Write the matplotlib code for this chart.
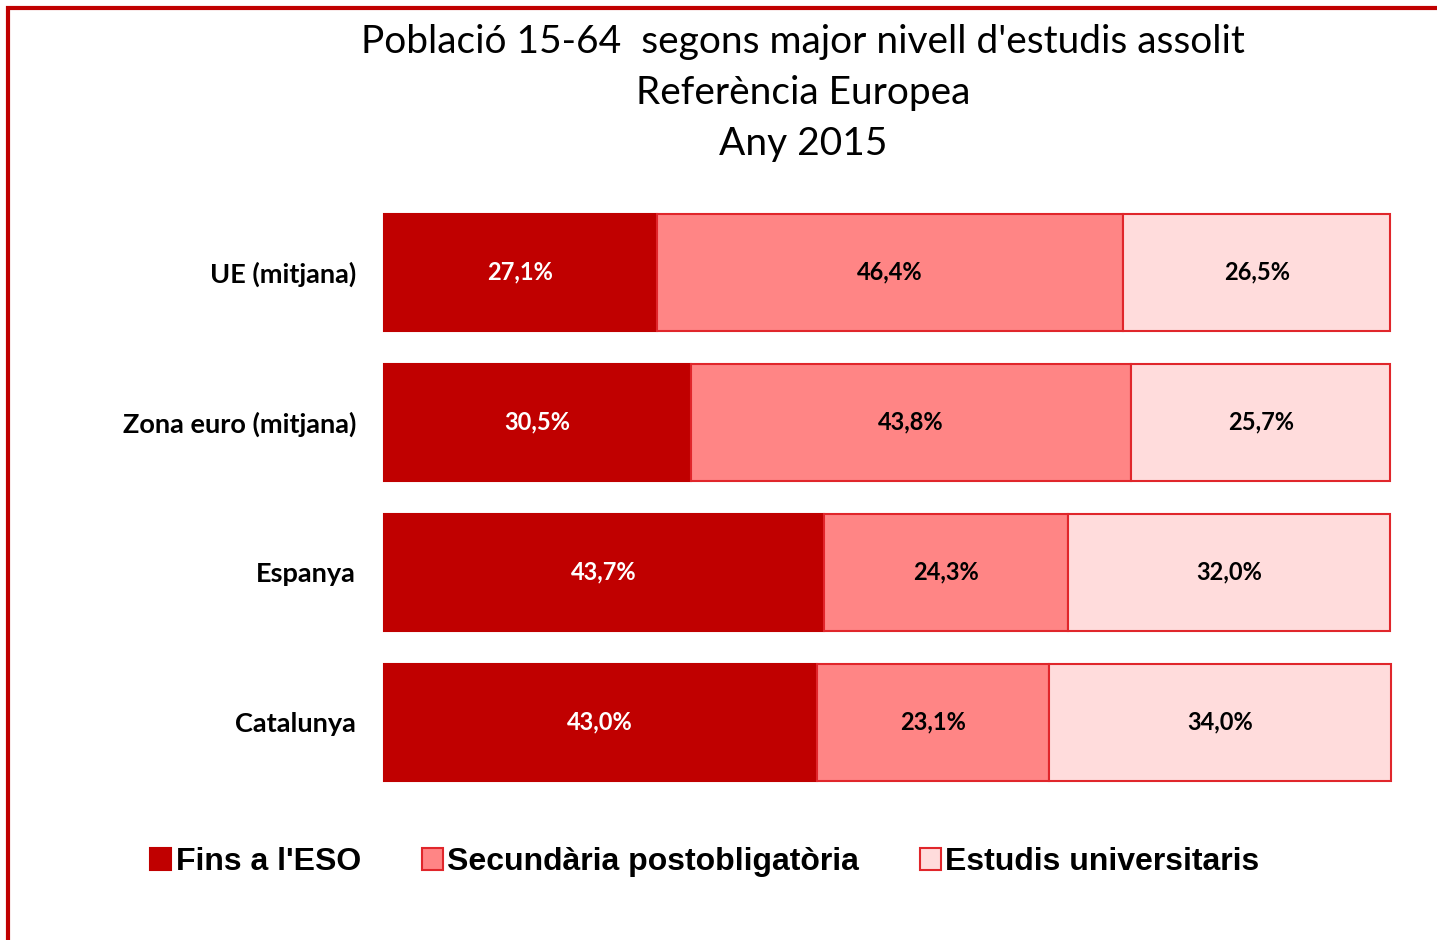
import matplotlib.pyplot as plt
from matplotlib.patches import Rectangle

plt.rcParams['font.family'] = ['Lato', 'DejaVu Sans']

categories = ["UE (mitjana)", "Zona euro (mitjana)", "Espanya", "Catalunya"]
fins_eso = [27.1, 30.5, 43.7, 43.0]
secundaria = [46.4, 43.8, 24.3, 23.1]
universitaris = [26.5, 25.7, 32.0, 34.0]
series_names = ["Fins a l'ESO", "Secundària postobligatòria", "Estudis universitaris"]

colors = ["#C00000", "#FF8585", "#FFDCDC"]
edges = ["#C00000", "#E0262B", "#E0262B"]
text_colors = ["white", "black", "black"]

fig = plt.figure(figsize=(14.37, 9.40), dpi=100)
ax = fig.add_axes([384 / 1437, 1 - 797 / 940, 1006 / 1437, 600 / 940])

ypos = list(range(len(categories)))
left = [0.0] * len(categories)
handles = []
for vals, col, ec, tc, name in zip([fins_eso, secundaria, universitaris], colors, edges, text_colors, series_names):
    bars = ax.barh(ypos, vals, left=left, height=0.78, color=col, edgecolor=ec,
                   linewidth=1.5, label=name)
    for b in bars:
        b.set_clip_on(False)
    handles.append(bars)
    for y, v, l in zip(ypos, vals, left):
        ax.text(l + v / 2, y, f"{v:.1f}%".replace(".", ","), ha="center", va="center",
                color=tc, fontsize=17, fontweight="bold")
    left = [a + b for a, b in zip(left, vals)]

ax.set_xlim(0, 100)
ax.set_ylim(3.5, -0.5)
ax.set_yticks(ypos)
ax.set_yticklabels(categories, fontsize=19.5, fontweight="bold")
ax.tick_params(axis="y", length=0, pad=20)
ax.set_xticks([])
for s in ax.spines.values():
    s.set_visible(False)

title_lines = ["Població 15-64  segons major nivell d'estudis assolit", "Referència Europea", "Any 2015"]
for i, line in enumerate(title_lines):
    fig.text(803 / 1437, 1 - (42 + 51 * i) / 940, line, ha="center", va="center",
             fontsize=28)

leg = fig.legend(handles=handles, labels=series_names, loc="center",
                 bbox_to_anchor=(705 / 1437, 1 - 862 / 940), ncol=3, frameon=True,
                 fancybox=False, edgecolor="white", handlelength=0.65, handleheight=0.7,
                 handletextpad=0.15, columnspacing=1.9,
                 prop={"family": "Liberation Sans", "weight": "bold", "size": 23})

# red frame on top and left
fig.patches.append(Rectangle((8 / 1437, -0.05), 1.1, 1 - 8 / 940 + 0.05, transform=fig.transFigure,
                             fill=False, edgecolor="#C00000", linewidth=3, figure=fig))

fig.savefig("out.png", dpi=100)
